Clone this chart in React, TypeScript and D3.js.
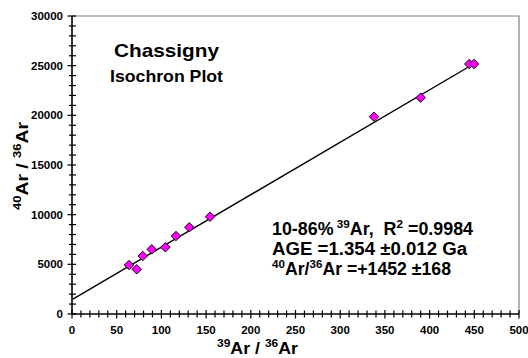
import * as d3 from "d3";
import { useEffect, useRef } from "react";

// 39Ar/36Ar vs 40Ar/36Ar steps
const ratio39 = [63.8, 72.4, 79.1, 89.2, 104.4, 116.3, 131.2, 154.4, 337.8, 390.0, 444.4, 449.7];
const ratio40 = [4930, 4500, 5840, 6510, 6720, 7850, 8730, 9800, 19860, 21780, 25170, 25170];

// isochron fit line end points
const fitX = [1, 453];
const fitY = [1500, 25370];

const xTicks = [0, 50, 100, 150, 200, 250, 300, 350, 400, 450, 500];
const yTicks = [0, 5000, 10000, 15000, 20000, 25000, 30000];

const FONT = "Arial, 'Liberation Sans', Helvetica, sans-serif";

const App = () => {
  const ref = useRef<SVGSVGElement>(null);

  useEffect(() => {
    const svg = d3.select(ref.current);
    svg.selectAll("*").remove();

    const left = 72, right = 519, top = 16, bottom = 314;

    const x = d3.scaleLinear().domain([0, 500]).range([left, right]);
    const y = d3.scaleLinear().domain([0, 30000]).range([bottom, top]);

    // frame (top and right in gray)
    svg.append("path")
      .attr("d", `M${left},${top}H${right}V${bottom}`)
      .attr("fill", "none")
      .attr("stroke", "#808080")
      .attr("stroke-width", 1.2);

    // ticks, crossing the axes
    const gx = svg.append("g");
    d3.range(0, 501, 10).forEach(v => {
      const major = v % 50 === 0;
      gx.append("line")
        .attr("x1", x(v)).attr("x2", x(v))
        .attr("y1", bottom - (major ? 4 : 3.5)).attr("y2", bottom + (major ? 4.5 : 3.5))
        .attr("stroke", "#000").attr("stroke-width", 1.2);
    });
    const gy = svg.append("g");
    d3.range(0, 30001, 1000).forEach(v => {
      const major = v % 5000 === 0;
      gy.append("line")
        .attr("y1", y(v)).attr("y2", y(v))
        .attr("x1", left - (major ? 4.5 : 3)).attr("x2", left + 4)
        .attr("stroke", "#000").attr("stroke-width", 1.2);
    });

    // axis lines
    svg.append("line").attr("x1", left).attr("x2", right).attr("y1", bottom).attr("y2", bottom)
      .attr("stroke", "#000").attr("stroke-width", 1.6);
    svg.append("line").attr("x1", left).attr("x2", left).attr("y1", top).attr("y2", bottom)
      .attr("stroke", "#000").attr("stroke-width", 1.6);

    // tick labels
    svg.append("g").selectAll("text").data(xTicks).enter().append("text")
      .attr("x", d => x(d)).attr("y", 334)
      .attr("text-anchor", "middle")
      .attr("font-family", FONT).attr("font-weight", "bold").attr("font-size", 11.5)
      .text(d => d);
    svg.append("g").selectAll("text").data(yTicks).enter().append("text")
      .attr("x", 63).attr("y", d => y(d) + 4)
      .attr("text-anchor", "end")
      .attr("font-family", FONT).attr("font-weight", "bold").attr("font-size", 11.5)
      .text(d => d);

    // fit line
    const line = d3.line<number>().x(d => x(d)).y((d, i) => y(fitY[i]));
    svg.append("path").datum(fitX).attr("d", line)
      .attr("fill", "none").attr("stroke", "#000").attr("stroke-width", 1.4);

    // points
    const diamond = d3.symbol().type(d3.symbolDiamond2).size(58);
    svg.append("g").selectAll("path").data(ratio39).enter().append("path")
      .attr("d", diamond)
      .attr("transform", (d, i) => `translate(${x(d)},${y(ratio40[i])})`)
      .attr("fill", "#ff00ff").attr("stroke", "#000").attr("stroke-width", 0.9);
  }, []);

  const bold = { fontFamily: FONT, fontWeight: "bold" as const, whiteSpace: "pre" as const };

  return (
    <div style={{ position: "absolute", left: 0, top: 0 }}>
      <svg ref={ref} width={528} height={358} style={{ position: "absolute", left: 0, top: 0 }} />
      <svg width={528} height={358} style={{ position: "absolute", left: 0, top: 0 }}>
        <text x={114} y={57} fontSize={19} textLength={105} lengthAdjust="spacingAndGlyphs" style={bold}>Chassigny</text>
        <text x={110} y={82} fontSize={16.5} textLength={113} lengthAdjust="spacingAndGlyphs" style={bold}>Isochron Plot</text>

        <text x={272} y={235} fontSize={17.5} textLength={201} lengthAdjust="spacingAndGlyphs" style={bold}>
          10-86%<tspan fontSize={11.5} dy={-7}> 39</tspan><tspan dy={7}>Ar,  R</tspan><tspan fontSize={11.5} dy={-7}>2</tspan><tspan dy={7}> =0.9984</tspan>
        </text>
        <text x={272} y={255} fontSize={17.5} textLength={195} lengthAdjust="spacingAndGlyphs" style={bold}>AGE =1.354 ±0.012 Ga</text>
        <text x={272} y={275} fontSize={17.5} textLength={179} lengthAdjust="spacingAndGlyphs" style={bold}>
          <tspan fontSize={11.5} dy={-7}>40</tspan><tspan dy={7}>Ar/</tspan><tspan fontSize={11.5} dy={-7}>36</tspan><tspan dy={7}>Ar =+1452 ±168</tspan>
        </text>

        <text x={217} y={354} fontSize={17} textLength={81} lengthAdjust="spacingAndGlyphs" style={bold}>
          <tspan fontSize={11.5} dy={-7}>39</tspan><tspan dy={7}>Ar / </tspan><tspan fontSize={11.5} dy={-7}>36</tspan><tspan dy={7}>Ar</tspan>
        </text>
        <text transform="translate(28,210) rotate(-90)" fontSize={17} textLength={88} lengthAdjust="spacingAndGlyphs" style={bold}>
          <tspan fontSize={11.5} dy={-7}>40</tspan><tspan dy={7}>Ar / </tspan><tspan fontSize={11.5} dy={-7}>36</tspan><tspan dy={7}>Ar</tspan>
        </text>
      </svg>
    </div>
  );
};

export default App;
